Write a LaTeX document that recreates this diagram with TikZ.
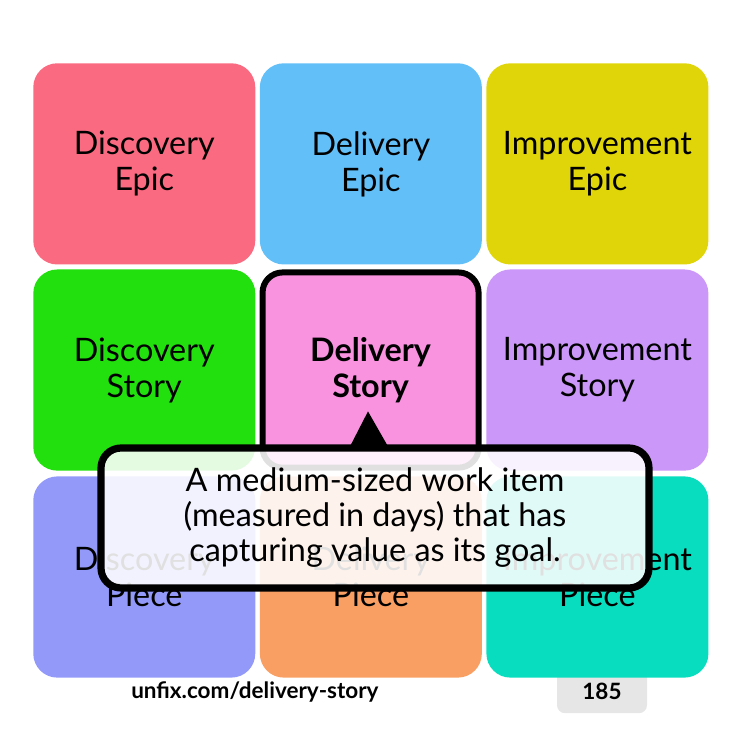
\documentclass[tikz,border=0pt]{standalone}
\usepackage{fontspec}
\setmainfont{Lato}
\usetikzlibrary{positioning,calc}
\definecolor{discepic}{HTML}{FA6A80}
\definecolor{delepic}{HTML}{63BFF8}
\definecolor{impepic}{HTML}{DFD508}
\definecolor{discstory}{HTML}{22E00E}
\definecolor{delstory}{HTML}{F993E0}
\definecolor{impstory}{HTML}{CB97F8}
\definecolor{discpiece}{HTML}{9399F9}
\definecolor{delpiece}{HTML}{F99F63}
\definecolor{imppiece}{HTML}{08DDBF}
\definecolor{pagegray}{HTML}{E6E6E6}
\tikzset{
	tile/.style={rectangle,minimum width=5.55cm,minimum height=5.03cm,anchor=center,rounded corners=0.6cm,align=center,inner sep=0pt,font=\fontsize{23}{25.6}\selectfont},
	current/.style={tile,draw=black,line width=0.15cm,minimum width=5.4cm,minimum height=4.88cm,rounded corners=0.5cm,font=\fontsize{23}{25.6}\selectfont\bfseries},
	callout/.style={rectangle,draw=black,line width=0.18cm,fill=white,fill opacity=0.88,text opacity=1,rounded corners=0.5cm,minimum width=13.7cm,minimum height=3.5cm,align=center,font=\fontsize{23}{24.9}\selectfont},
	footer/.style={inner sep=0pt,font=\fontsize{16}{18}\selectfont\bfseries},
	pagebox/.style={rectangle,fill=pagegray,rounded corners=0.2cm,minimum width=2.25cm,minimum height=1.1cm,inner sep=0pt,font=\fontsize{16}{18}\selectfont\bfseries},
}

\begin{document}
\begin{tikzpicture}
	\useasboundingbox (0,0) rectangle (18.5,-18.5);
	
	% Page number (behind the tiles)
	\node[pagebox] (pagenum) at (15.05,-17.28) {185};
	
	% Epics
	\node[tile,fill=discepic,anchor=north west] (discepicnode) at (0.825,-1.575) {Discovery\\Epic};
	\node[tile,fill=delepic,right=0.1cm of discepicnode] (delepicnode) {Delivery\\Epic};
	\node[tile,fill=impepic,right=0.1cm of delepicnode] (impepicnode) {Improvement\\Epic};
	
	% Stories
	\node[tile,fill=discstory,below=0.11cm of discepicnode] (discstorynode) {Discovery\\Story};
	\node[current,fill=delstory,right=0.1cm of discstorynode] (delstorynode) {Delivery\\Story};
	\node[tile,fill=impstory,below=0.11cm of impepicnode] (impstorynode) {Improvement\\Story};
	
	% Pieces
	\node[tile,fill=discpiece,below=0.13cm of discstorynode] (discpiecenode) {Discovery\\Piece};
	\node[tile,fill=delpiece,right=0.1cm of discpiecenode] (delpiecenode) {Delivery\\Piece};
	\node[tile,fill=imppiece,right=0.1cm of delpiecenode] (imppiecenode) {Improvement\\Piece};
	
	% Callout with its pointer
	\coordinate (calloutpos) at (9.375,-12.95);
	\fill[black] ([xshift=-0.625cm,yshift=1.79cm]calloutpos) -- ([xshift=-0.175cm,yshift=2.665cm]calloutpos) -- ([xshift=0.325cm,yshift=1.79cm]calloutpos) -- cycle;
	\node[callout] (callout) at (calloutpos) {A medium-sized work item\\(measured in days) that has\\capturing value as its goal.};
	
	% Footer
	\node[footer,anchor=west] (link) at (3.275,-17.3) {unfix.com/delivery-story};
	
\end{tikzpicture}
\end{document}
